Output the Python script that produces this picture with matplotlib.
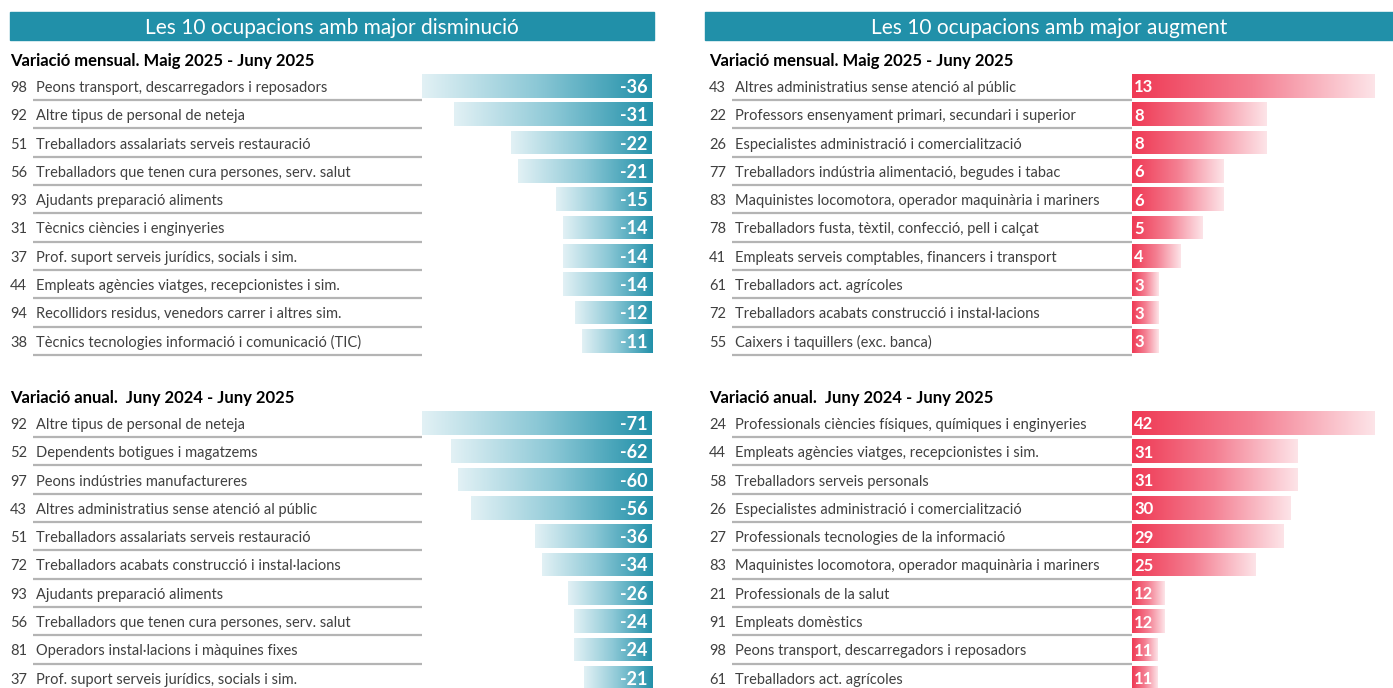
import numpy as np
import matplotlib
matplotlib.use("Agg")
from matplotlib import pyplot as plt
from matplotlib import transforms
from matplotlib.colors import LinearSegmentedColormap
from matplotlib.patches import Rectangle

plt.rcParams['font.family'] = ['Lato', 'DejaVu Sans']

# ---- data ----
dec_month_codes = ["98", "92", "51", "56", "93", "31", "37", "44", "94", "38"]
dec_month_labels = [
    "Peons transport, descarregadors i reposadors",
    "Altre tipus de personal de neteja",
    "Treballadors assalariats serveis restauració",
    "Treballadors que tenen cura persones, serv. salut",
    "Ajudants preparació aliments",
    "Tècnics ciències i enginyeries",
    "Prof. suport serveis jurídics, socials i sim.",
    "Empleats agències viatges, recepcionistes i sim.",
    "Recollidors residus, venedors carrer i altres sim.",
    "Tècnics tecnologies informació i comunicació (TIC)",
]
dec_month_vals = [-36, -31, -22, -21, -15, -14, -14, -14, -12, -11]

dec_year_codes = ["92", "52", "97", "43", "51", "72", "93", "56", "81", "37"]
dec_year_labels = [
    "Altre tipus de personal de neteja",
    "Dependents botigues i magatzems",
    "Peons indústries manufactureres",
    "Altres administratius sense atenció al públic",
    "Treballadors assalariats serveis restauració",
    "Treballadors acabats construcció i instal·lacions",
    "Ajudants preparació aliments",
    "Treballadors que tenen cura persones, serv. salut",
    "Operadors instal·lacions i màquines fixes",
    "Prof. suport serveis jurídics, socials i sim.",
]
dec_year_vals = [-71, -62, -60, -56, -36, -34, -26, -24, -24, -21]

inc_month_codes = ["43", "22", "26", "77", "83", "78", "41", "61", "72", "55"]
inc_month_labels = [
    "Altres administratius sense atenció al públic",
    "Professors ensenyament primari, secundari i superior",
    "Especialistes administració i comercialització",
    "Treballadors indústria alimentació, begudes i tabac",
    "Maquinistes locomotora, operador maquinària i mariners",
    "Treballadors fusta, tèxtil, confecció, pell i calçat",
    "Empleats serveis comptables, financers i transport",
    "Treballadors act. agrícoles",
    "Treballadors acabats construcció i instal·lacions",
    "Caixers i taquillers (exc. banca)",
]
inc_month_vals = [13, 8, 8, 6, 6, 5, 4, 3, 3, 3]

inc_year_codes = ["24", "44", "58", "26", "27", "83", "21", "91", "98", "61"]
inc_year_labels = [
    "Professionals ciències físiques, químiques i enginyeries",
    "Empleats agències viatges, recepcionistes i sim.",
    "Treballadors serveis personals",
    "Especialistes administració i comercialització",
    "Professionals tecnologies de la informació",
    "Maquinistes locomotora, operador maquinària i mariners",
    "Professionals de la salut",
    "Empleats domèstics",
    "Peons transport, descarregadors i reposadors",
    "Treballadors act. agrícoles",
]
inc_year_vals = [42, 31, 31, 30, 29, 25, 12, 12, 11, 11]

titles = ["Les 10 ocupacions amb major disminució", "Les 10 ocupacions amb major augment"]
sub_month = "Variació mensual. Maig 2025 - Juny 2025"
sub_year = "Variació anual.  Juny 2024 - Juny 2025"

# ---- style ----
W, H = 1393, 688
TEAL = "#2190a9"
blue_cmap = LinearSegmentedColormap.from_list("b", ["#e2f1f5", "#8cc8d6", TEAL])
red_cmap = LinearSegmentedColormap.from_list("r", ["#ef3954", "#f47f92", "#fde4e8"])
TXT = "#404040"
LINE = "#b4b4b4"

fig = plt.figure(figsize=(W / 100, H / 100), dpi=100)


def fx(px):
    return px / W


def fy(py):
    return 1 - py / H


def section(codes, labels, vals, xlim, x_code, x_lab, x_bar0, x_bar1, top_row, side):
    row_h = 28.3
    top = top_row - row_h / 2
    bot = top + 10 * row_h
    ax = fig.add_axes([fx(x_bar0), fy(bot), fx(x_bar1) - fx(x_bar0), (bot - top) / H])
    ax.set_axis_off()
    y = np.arange(len(vals))
    bars = ax.barh(y, vals, height=0.84, color="none", edgecolor="none")
    grad = np.linspace(0, 1, 256).reshape(1, -1)
    cmap = blue_cmap if side == "left" else red_cmap
    for b in bars:
        x0, x1 = sorted([b.get_x(), b.get_x() + b.get_width()])
        x0 = max(x0, xlim[0])
        y0, y1 = b.get_y(), b.get_y() + b.get_height()
        im = ax.imshow(grad, extent=[x0, x1, y1, y0], aspect="auto", cmap=cmap,
                       interpolation="bilinear")
        im.set_clip_path(b)
    ax.set_xlim(*xlim)
    ax.set_ylim(9.5, -0.5)

    tr = transforms.blended_transform_factory(fig.transFigure, ax.transData)
    for i, (c, lab, v) in enumerate(zip(codes, labels, vals)):
        ax.text(fx(x_code), i + 0.07, c, transform=tr, ha="left", va="center",
                fontsize=10.5, color=TXT)
        ax.text(fx(x_lab), i + 0.07, lab, transform=tr, ha="left", va="center",
                fontsize=10.5, color=TXT)
        ax.plot([fx(x_lab - 3), fx(x_bar0)], [i + 0.5, i + 0.5], transform=tr,
                color=LINE, lw=1.6, clip_on=False, solid_capstyle="butt")
        if side == "left":
            ax.text(-(xlim[1] - xlim[0]) * 0.02, i + 0.05, str(v), ha="right",
                    va="center", fontsize=13, color="white", fontweight="bold")
        else:
            ax.text(xlim[0] + (xlim[1] - xlim[0]) * 0.008, i + 0.05, str(v), ha="left",
                    va="center", fontsize=12, color="white", fontweight="bold")
    return ax


# title bars
for (x0, x1), t in zip([(10, 654), (705, 1393)], titles):
    fig.patches.append(Rectangle((fx(x0), fy(40)), fx(x1) - fx(x0), 28 / H,
                                 transform=fig.transFigure, color=TEAL, zorder=0))
    fig.text(fx((x0 + x1) / 2), fy(27.5), t, ha="center", va="center",
             fontsize=15, color="white")

# subtitles
for x in [10, 709]:
    fig.text(fx(x), fy(61), sub_month, ha="left", va="center", fontsize=12,
             fontweight="bold", color="black")
    fig.text(fx(x), fy(398), sub_year, ha="left", va="center", fontsize=12,
             fontweight="bold", color="black")

section(dec_month_codes, dec_month_labels, dec_month_vals, (-36, 0),
        10, 36, 422, 652, 86, "left")
section(dec_year_codes, dec_year_labels, dec_year_vals, (-71, 0),
        10, 36, 422, 652, 423, "left")
section(inc_month_codes, inc_month_labels, inc_month_vals, (1.75, 13),
        709, 735, 1132, 1375, 86, "right")
section(inc_year_codes, inc_year_labels, inc_year_vals, (7.3, 42),
        709, 735, 1132, 1375, 423, "right")

fig.savefig("out.png", dpi=100)
